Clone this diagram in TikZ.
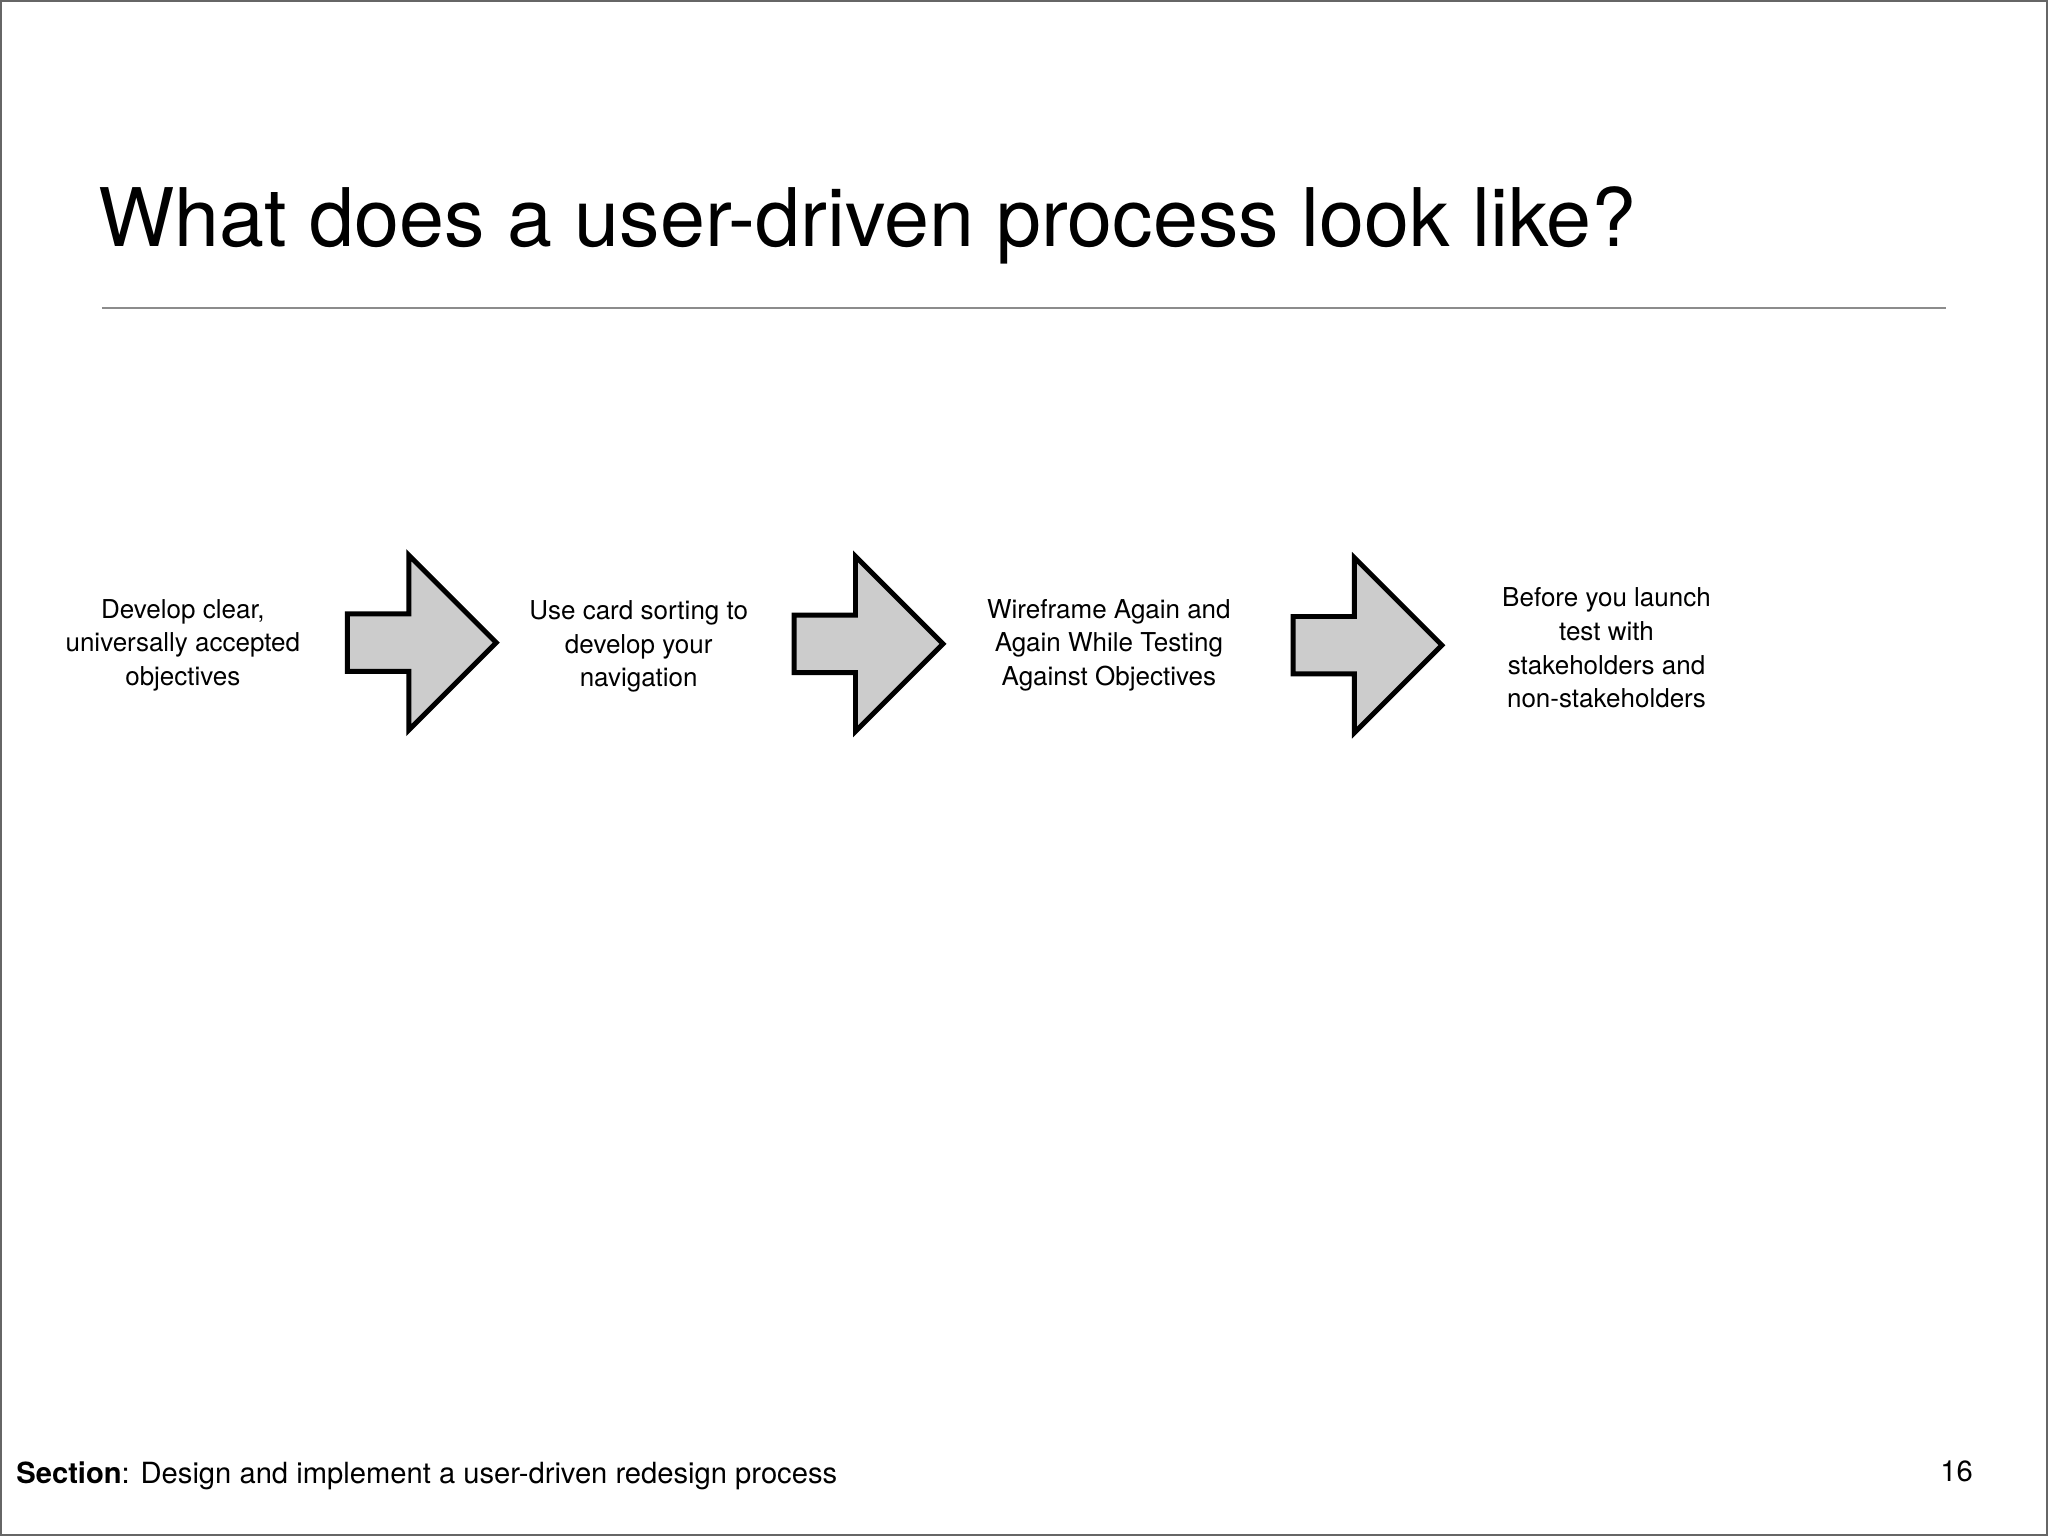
\documentclass[tikz,border=0pt]{standalone}
\usepackage{fontspec}
\setmainfont{TeX Gyre Heros}
\begin{document}
\begin{tikzpicture}[x=0.01306cm,y=-0.01306cm,
  lbl/.style={align=center,font=\fontsize{7.4pt}{9.6pt}\selectfont,inner sep=0pt},
  arr/.style={draw=black,line width=1.4pt,fill=black!20,line join=miter}]
\useasboundingbox (0,0) rectangle (1568,1176);
\draw[black!60,line width=0.6pt] (0.5,0.5) rectangle (1567.5,1175.5);
\node[anchor=base west,inner sep=0pt,font=\fontsize{23pt}{27pt}\selectfont] (title) at (75,189) {What does a user-driven process look like?};
\coordinate (la) at (78,236); \coordinate (lb) at (1490,236);
\draw[black!45,line width=0.7pt] (la) -- (lb);
\foreach \n/\x/\t in {a1/266/492, a2/608/493, a3/990/494}{
  \draw[arr] (\x,\t-22) -- (\x+47,\t-22) -- (\x+47,\t-67) -- (\x+114,\t) -- (\x+47,\t+67) -- (\x+47,\t+22) -- (\x,\t+22) -- cycle;
}
\node[lbl] (t1) at (140,494) {Develop clear,\\universally accepted\\objectives};
\node[lbl] (t2) at (489,495) {Use card sorting to\\develop your\\navigation};
\node[lbl] (t3) at (849,494) {Wireframe Again and\\Again While Testing\\Against Objectives};
\node[lbl] (t4) at (1230,496) {Before you launch\\test with\\stakeholders and\\non-stakeholders};
\node[anchor=base west,inner sep=0pt,font=\fontsize{8.3pt}{10pt}\selectfont] (foot) at (12,1136) {\textbf{Section}: Design and implement a user-driven redesign process};
\node[anchor=base east,inner sep=0pt,font=\fontsize{8.3pt}{10pt}\selectfont] (pg) at (1511,1134) {16};
\end{tikzpicture}
\end{document}
